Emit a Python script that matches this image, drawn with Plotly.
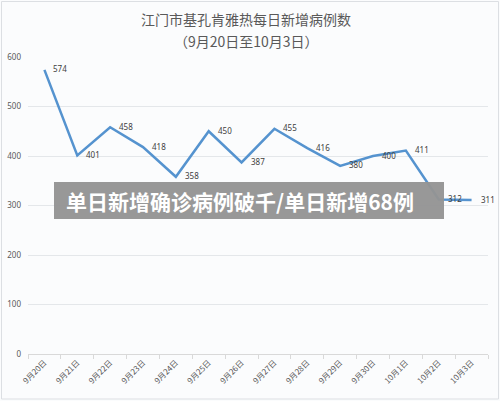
import plotly.graph_objects as go

dates = ["9月20日", "9月21日", "9月22日", "9月23日", "9月24日", "9月25日", "9月26日",
         "9月27日", "9月28日", "9月29日", "9月30日", "10月1日", "10月2日", "10月3日"]
cases = [574, 401, 458, 418, 358, 450, 387, 455, 416, 380, 400, 411, 312, 311]
y_ticks = [0, 100, 200, 300, 400, 500, 600]

title_line1 = "江门市基孔肯雅热每日新增病例数"
title_line2 = "（9月20日至10月3日）"
banner_text = "单日新增确诊病例破千/单日新增68例"

W, H = 500, 401
L, R, T, B = 28, 12, 57, 47
pw, ph = W - L - R, H - T - B

def px2paper_x(px):
    return (px - L) / pw

def px2paper_y(py):
    return (H - B - py) / ph

fig = go.Figure()
fig.add_trace(go.Scatter(
    x=dates, y=cases, mode="lines",
    line=dict(color="#5593cf", width=2.5),
    hoverinfo="skip", showlegend=False,
))

for d, v in zip(dates, cases):
    fig.add_annotation(x=d, y=v, text=str(v), showarrow=False,
                       xanchor="left", yanchor="middle", xshift=7, yshift=1,
                       font=dict(size=8, color="#404040", family="Noto Sans, sans-serif"))

# title
fig.add_annotation(xref="paper", yref="paper", x=px2paper_x(246), y=px2paper_y(19),
                   text=title_line1, showarrow=False, xanchor="center", yanchor="middle",
                   font=dict(size=14, color="#595959", family="Noto Sans CJK SC"))
fig.add_annotation(xref="paper", yref="paper", x=px2paper_x(246), y=px2paper_y(41),
                   text=title_line2, showarrow=False, xanchor="center", yanchor="middle",
                   font=dict(size=14, color="#595959", family="Noto Sans CJK SC"))

# card border
fig.add_shape(type="rect", xref="paper", yref="paper",
              x0=px2paper_x(1.5), x1=px2paper_x(498.5), y0=px2paper_y(399), y1=px2paper_y(1.5),
              line=dict(color="#dcdfe3", width=1), fillcolor="rgba(0,0,0,0)", layer="below")

# banner overlay
fig.add_shape(type="rect", xref="paper", yref="paper",
              x0=px2paper_x(54), x1=px2paper_x(444), y0=px2paper_y(219), y1=px2paper_y(182),
              line=dict(width=0), fillcolor="rgba(148,148,148,0.96)", layer="above")
fig.add_annotation(xref="paper", yref="paper", x=px2paper_x(64), y=px2paper_y(200.5),
                   text="<b>" + banner_text + "</b>", showarrow=False,
                   xanchor="left", yanchor="middle",
                   font=dict(size=21, color="#ffffff", family="Noto Sans CJK SC"))

fig.update_layout(
    width=W, height=H,
    margin=dict(l=L, r=R, t=T, b=B, autoexpand=False),
    paper_bgcolor="#fbfcfd", plot_bgcolor="#fbfcfd",
    xaxis=dict(
        type="category", range=[-0.5, len(dates) - 0.5], tickangle=-45, tickson="boundaries",
        ticks="outside", ticklen=4, tickcolor="#d9d9d9",
        showgrid=False, showline=True, linecolor="#d9d9d9", linewidth=1,
        tickfont=dict(size=8, color="#595959", family="Noto Sans CJK SC"),
        automargin=False, fixedrange=True,
    ),
    yaxis=dict(
        range=[0, 600], tickvals=y_ticks, showgrid=True, gridcolor="#e4e7ea", gridwidth=1,
        zeroline=False, showline=False, ticks="",
        tickfont=dict(size=8, color="#595959", family="Noto Sans, sans-serif"),
        ticklabelstandoff=6, automargin=False, fixedrange=True,
    ),
)

fig.write_html("out.html")
